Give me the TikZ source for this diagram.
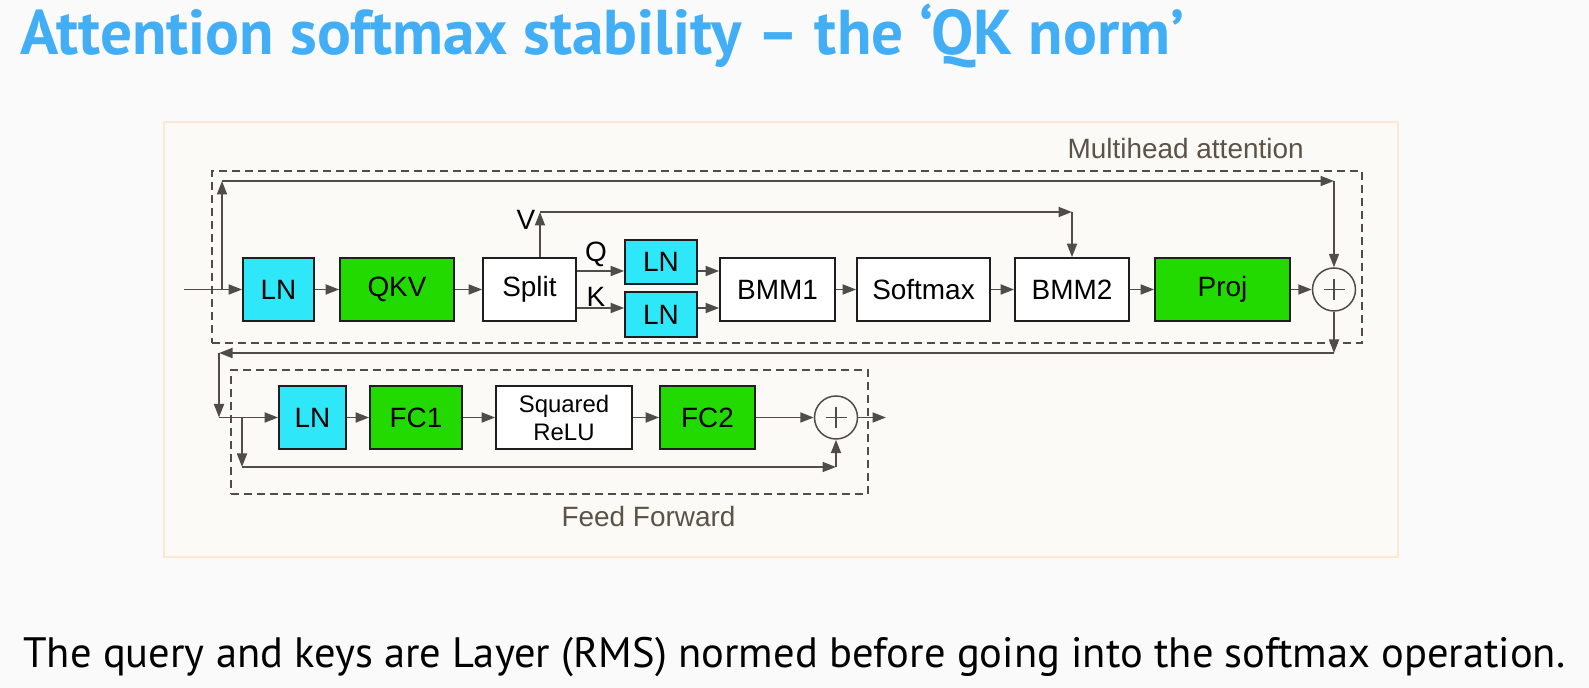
\documentclass[tikz,border=0pt]{standalone}
\usepackage{fontspec}
\setmainfont{Liberation Sans}
\newfontfamily\slidefont{PT Sans}
\usetikzlibrary{arrows.meta, positioning}
\definecolor{slide_bg}{RGB}{250, 250, 250}
\definecolor{frame_peach}{RGB}{252, 232, 212}
\definecolor{frame_fill}{RGB}{251, 250, 247}
\definecolor{title_blue}{RGB}{66, 174, 245}
\definecolor{ln_cyan}{RGB}{46, 232, 250}
\definecolor{fc_green}{RGB}{34, 218, 0}
\definecolor{wire_gray}{RGB}{80, 77, 72}
\definecolor{label_brown}{RGB}{92, 82, 72}
\definecolor{box_line}{RGB}{30, 30, 30}

\begin{document}
\begin{tikzpicture}[
    x=0.02cm, y=-0.02cm,
    block/.style={
        rectangle,
        draw=box_line,
        fill=#1,
        line width=0.035cm,
        minimum height=1.26cm,
        inner sep=0pt,
        align=center,
        text=black,
        font=\fontsize{15.9}{18}\selectfont
    },
    adder/.style={
        circle,
        draw=wire_gray,
        fill=frame_fill,
        line width=0.03cm,
        minimum size=0.86cm,
        inner sep=0pt,
        path picture={
            \draw[wire_gray, line width=0.03cm]
                ([xshift=-0.21cm]path picture bounding box.center) -- ([xshift=0.21cm]path picture bounding box.center)
                ([yshift=-0.21cm]path picture bounding box.center) -- ([yshift=0.21cm]path picture bounding box.center);
        }
    },
    groupbox/.style={
        rectangle,
        draw=wire_gray,
        line width=0.025cm,
        dash pattern=on 0.16cm off 0.1cm,
        inner sep=0pt
    },
    lbl/.style={
        text=#1,
        inner sep=0pt,
        font=\fontsize{15.9}{18}\selectfont
    },
    arrow/.style={
        -{Triangle[length=0.27cm,width=0.2cm]},
        line width=0.035cm,
        draw=wire_gray
    }
]

% slide background and frame
\fill[slide_bg] (0,0) rectangle (1589,688);
\useasboundingbox (0,0) rectangle (1589,688);
\draw[frame_peach, fill=frame_fill, line width=0.04cm] (164,122) rectangle (1398,557);

% title and caption
\node[anchor=base west, inner sep=0pt, text=title_blue, font={\slidefont\bfseries\fontsize{36}{40}\selectfont}] (title) at (20,55) {Attention softmax stability – the ‘QK norm’};
\node[anchor=base west, inner sep=0pt, text=black, font={\slidefont\fontsize{24.2}{28}\selectfont}] (note) at (23,668) {The query and keys are Layer (RMS) normed before going into the softmax operation.};

% dashed groups
\node[groupbox, minimum width=23cm, minimum height=3.44cm] (mha) at (787,257) {};
\node[groupbox, minimum width=12.74cm, minimum height=2.48cm] (ff) at (549.5,432) {};
\node[lbl=label_brown, anchor=base east] (mhalab) at (1304,159) {Multihead attention};
\node[lbl=label_brown, anchor=base] (fflab) at (648.5,527) {Feed Forward};

% attention row
\node[block=ln_cyan, minimum width=1.42cm] (ln1) at (278.5,289.5) {LN};
\node[block=fc_green, minimum width=2.28cm] (qkv) at (397,289.5) {QKV};
\node[block=white, minimum width=1.86cm] (split) at (529.5,289.5) {Split};
\node[block=ln_cyan, minimum width=1.44cm, minimum height=0.88cm] (lnq) at (661,262) {LN};
\node[block=ln_cyan, minimum width=1.44cm, minimum height=0.9cm] (lnk) at (661,314.5) {LN};
\node[block=white, minimum width=2.3cm] (bmm1) at (777.5,289.5) {BMM1};
\node[block=white, minimum width=2.66cm] (softmax) at (923.5,289.5) {Softmax};
\node[block=white, minimum width=2.28cm] (bmm2) at (1072,289.5) {BMM2};
\node[block=fc_green, minimum width=2.7cm] (proj) at (1222.5,289.5) {Proj};
\node[adder] (add1) at (1334,289.5) {};

% feed forward row
\node[block=ln_cyan, minimum width=1.34cm] (ln2) at (312.5,417.5) {LN};
\node[block=fc_green, minimum width=1.84cm] (fc1) at (416,417.5) {FC1};
\node[block=white, minimum width=2.72cm, font=\fontsize{13.6}{15.9}\selectfont] (relu) at (564,417.5) {Squared\\ReLU};
\node[block=fc_green, minimum width=1.9cm] (fc2) at (707.5,417.5) {FC2};
\node[adder] (add2) at (836,417.5) {};

% V, Q, K tags
\node[lbl=black] (vlab) at (526,220) {V};
\node[lbl=black] (qlab) at (596,254) {Q};
\node[lbl=black] (klab) at (596,297) {K};

% wire points
\coordinate (in) at (184,289.5);
\coordinate (skip1) at (222,289.5);
\coordinate (skip1top) at (222,181);
\coordinate (vtop) at (540,212);
\coordinate (qlane) at (600,271);
\coordinate (klane) at (600,308);
\coordinate (ret) at (219,353);
\coordinate (ffin) at (219,417.5);
\coordinate (skip2) at (242,417.5);
\coordinate (skip2low) at (242,467);
\coordinate (out) at (886,417.5);

% attention wires
\draw[arrow] (in) -- (ln1.west);
\draw[arrow] (skip1) -- (skip1top);
\draw[arrow] (skip1top) -- (skip1top -| add1);
\draw[arrow] (skip1top -| add1) -- (add1.north);
\draw[arrow] (ln1) -- (qkv);
\draw[arrow] (qkv) -- (split);
\draw[arrow] (vtop |- split.north) -- (vtop);
\draw[arrow] (vtop) -- (vtop -| bmm2);
\draw[arrow] (vtop -| bmm2) -- (bmm2.north);
\draw[arrow] (split.east |- qlane) -- (lnq.west |- qlane);
\draw[arrow] (split.east |- klane) -- (lnk.west |- klane);
\draw[arrow] (lnq.east |- qlane) -- (bmm1.west |- qlane);
\draw[arrow] (lnk.east |- klane) -- (bmm1.west |- klane);
\draw[arrow] (bmm1) -- (softmax);
\draw[arrow] (softmax) -- (bmm2);
\draw[arrow] (bmm2) -- (proj);
\draw[arrow] (proj) -- (add1);
\draw[arrow] (add1.south) -- (ret -| add1);
\draw[arrow] (ret -| add1) -- (ret);
\draw[arrow] (ret) -- (ffin);

% feed forward wires
\draw[arrow] (ffin) -- (ln2.west);
\draw[arrow] (ln2) -- (fc1);
\draw[arrow] (fc1) -- (relu);
\draw[arrow] (relu) -- (fc2);
\draw[arrow] (fc2) -- (add2);
\draw[arrow] (add2) -- (out);
\draw[arrow] (skip2) -- (skip2low);
\draw[arrow] (skip2low) -- (skip2low -| add2);
\draw[arrow] (skip2low -| add2) -- (add2.south);

\end{tikzpicture}
\end{document}
